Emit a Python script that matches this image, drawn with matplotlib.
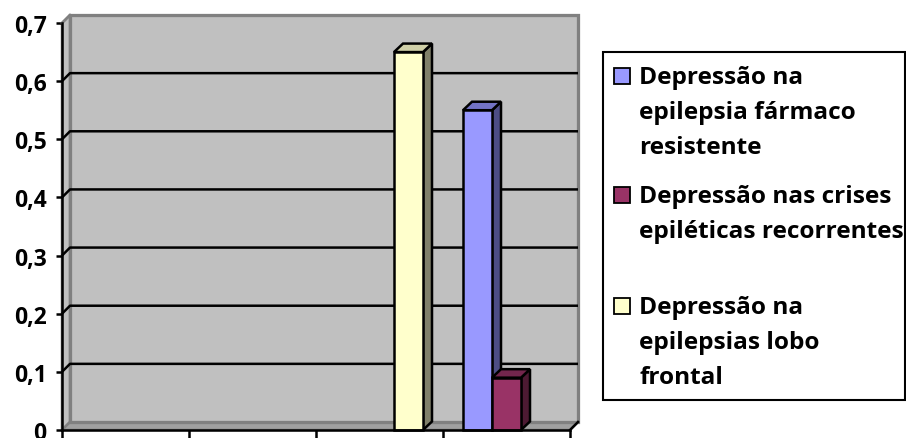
import matplotlib
matplotlib.use("Agg")
import matplotlib.pyplot as plt
from matplotlib.patches import Polygon, Rectangle
import numpy as np

# ---- data ----
categories = ["", "", "", ""]
series_names = [
    "Depressão na\nepilepsia fármaco\nresistente",
    "Depressão nas crises\nepiléticas recorrentes",
    "Depressão na\nepilepsias lobo\nfrontal",
]
series_values = {
    "blue": [0, 0, 0, 0.55],
    "maroon": [0, 0, 0, 0.09],
    "yellow": [0, 0, 0.65, 0],
}
y_ticks = [0, 0.1, 0.2, 0.3, 0.4, 0.5, 0.6, 0.7]
y_tick_labels = ["0", "0,1", "0,2", "0,3", "0,4", "0,5", "0,6", "0,7"]

# ---- styles ----
face_colors = ["#9999FF", "#993366", "#FFFFCC"]
side_colors = ["#4D4D85", "#4D1A33", "#80806A"]
top_colors = ["#7373C4", "#73264D", "#D0D0A8"]

W, H = 906, 439
plt.rcParams['font.family'] = ['Open Sans', 'DejaVu Sans']
plt.rcParams['font.weight'] = 'bold'
FS_TICK = 16.5
FS_LEG = 17.6

fig = plt.figure(figsize=(W / 100, H / 100), dpi=100)
fig.patch.set_facecolor("white")

def fx(x):
    return x / W

def fy(y):
    return 1 - y / H

ax_l, ax_r, ax_t, ax_b = 62, 570, 24, 431
ax = fig.add_axes([fx(ax_l), fy(ax_b), (ax_r - ax_l) / W, (ax_b - ax_t) / H])
ncat = len(categories)
ax.set_xlim(0, ncat)
ax.set_ylim(0, 0.7)
ax.patch.set_visible(False)

px_per_x = (ax_r - ax_l) / ncat
px_per_y = (ax_b - ax_t) / 0.7
dx = 8 / px_per_x
dy = 8 / px_per_y
ymax = 0.7

wall_c = "#C0C0C0"
floor_c = "#A0A0A0"
edge_c = "#808080"
lw_edge = 1.8

# side wall
ax.add_patch(Polygon([(0, 0), (dx, dy), (dx, ymax + dy), (0, ymax)], closed=True,
                     facecolor=wall_c, edgecolor=edge_c, lw=lw_edge, clip_on=False, zorder=1))
# floor
ax.add_patch(Polygon([(0, 0), (ncat, 0), (ncat + dx, dy), (dx, dy)], closed=True,
                     facecolor=floor_c, edgecolor=edge_c, lw=lw_edge, clip_on=False, zorder=1))
# back wall
ax.add_patch(Polygon([(dx, dy), (ncat + dx, dy), (ncat + dx, ymax + dy), (dx, ymax + dy)], closed=True,
                     facecolor=wall_c, edgecolor=edge_c, lw=lw_edge * 1.3, clip_on=False, zorder=1))

# gridlines
for v in y_ticks[1:-1]:
    ax.plot([0, dx, ncat + dx], [v, v + dy, v + dy], color="black", lw=1.8,
            clip_on=False, zorder=2, solid_capstyle="butt")
ax.plot([0, dx], [ymax, ymax + dy], color=edge_c, lw=1.8, clip_on=False, zorder=2)
ax.plot([ncat, ncat + dx], [0, dy], color="black", lw=1.8, clip_on=False, zorder=2)

# bars
nser = len(series_names)
bw = 29 / px_per_x
offsets = (np.arange(nser) - (nser - 1) / 2) * bw
x = np.arange(ncat) + 0.5
bdx, bdy = 9 / px_per_x, 8.5 / px_per_y
for k, key in enumerate(["blue", "maroon", "yellow"]):
    vals = np.array(series_values[key], dtype=float)
    mask = vals > 0
    cont = ax.bar(x[mask] + offsets[k], vals[mask], width=bw, color=face_colors[k],
                  edgecolor="black", lw=1.8, zorder=5 + 3 * k, clip_on=False)
    for p in cont.patches:
        x0, w, h = p.get_x(), p.get_width(), p.get_height()
        ax.add_patch(Polygon([(x0 + w, 0), (x0 + w + bdx, bdy), (x0 + w + bdx, h + bdy), (x0 + w, h)],
                             closed=True, facecolor=side_colors[k], edgecolor="black", lw=1.8,
                             zorder=4 + 3 * k, clip_on=False))
        ax.add_patch(Polygon([(x0, h), (x0 + bdx, h + bdy), (x0 + w + bdx, h + bdy), (x0 + w, h)],
                             closed=True, facecolor=top_colors[k], edgecolor="black", lw=1.8,
                             zorder=4 + 3 * k, clip_on=False))

# axes styling
for s in ["top", "right"]:
    ax.spines[s].set_visible(False)
for s in ["left", "bottom"]:
    ax.spines[s].set_linewidth(1.8)
    ax.spines[s].set_color("black")
    ax.spines[s].set_zorder(20)
ax.set_yticks(y_ticks)
ax.set_yticklabels(y_tick_labels, fontsize=FS_TICK, fontweight="bold")
ax.set_xticks(np.arange(ncat + 1))
ax.set_xticklabels([""] * (ncat + 1))
ax.tick_params(axis="y", direction="out", length=4, width=1.8, pad=7)
ax.tick_params(axis="x", direction="out", length=6, width=1.8)

# legend (manual, Excel-style)
lg_l, lg_t, lg_r, lg_b = 603, 53, 905, 401
fig.patches.append(Rectangle((fx(lg_l), fy(lg_b)), (lg_r - lg_l) / W, (lg_b - lg_t) / H,
                             transform=fig.transFigure, facecolor="white", edgecolor="black",
                             lw=1.5, zorder=1))
first_line = [78, 197, 308]
line_sp = 35
msz = 16
for k, name in enumerate(series_names):
    cy = first_line[k]
    fig.patches.append(Rectangle((fx(614), fy(cy - 1 + msz / 2)), msz / W, msz / H,
                                 transform=fig.transFigure, facecolor=face_colors[k],
                                 edgecolor="black", lw=1.3, zorder=2))
    for i, line in enumerate(name.split("\n")):
        fig.text(fx(639), fy(cy + i * line_sp), line, fontsize=FS_LEG, fontweight="bold",
                 ha="left", va="center", zorder=3)

fig.savefig("out.png", dpi=100)
